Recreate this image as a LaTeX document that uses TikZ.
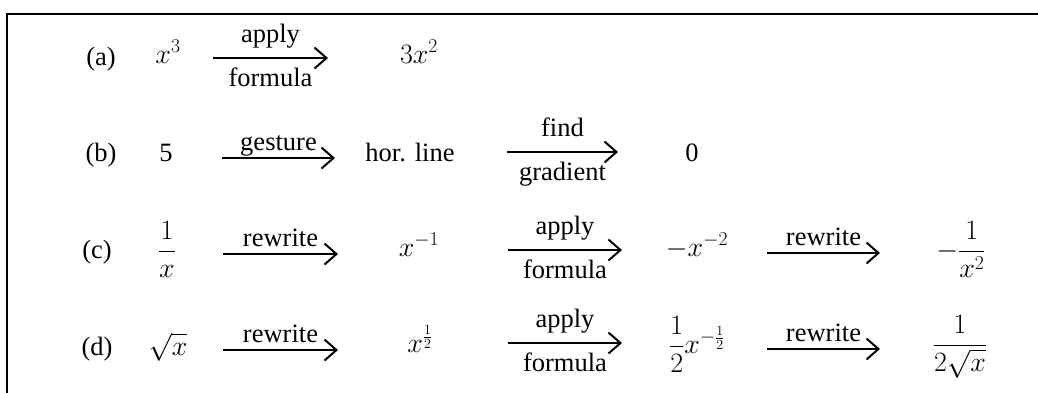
\RequirePackage{fix-cm}
\documentclass[tikz,border=0pt]{standalone}
\usepackage{amsmath}
\usepackage{fontspec}
\setmainfont{Liberation Serif}
\usetikzlibrary{arrows.meta}
\begin{document}
\begin{tikzpicture}[x=1pt,y=-1pt,
  every node/.style={inner sep=0pt,outer sep=0pt,font=\fontsize{26.5}{32}\selectfont},
  term/.style={anchor=base},
  mterm/.style={anchor=base,font=\fontsize{28}{34}\selectfont},
  arr/.style={line width=2pt,-{Straight Barb[length=12pt,width=21pt,line width=2pt]}},
  above lab/.style={pos=0.5,anchor=base,yshift=16pt},
  below lab/.style={pos=0.5,anchor=base,yshift=-28pt},
  close lab/.style={pos=0.5,anchor=base,yshift=8pt},
  frame/.style={line width=2pt}]
\useasboundingbox (0,0) rectangle (1038,392);
% frame
\coordinate (fbl) at (7,393);
\coordinate (ftl) at (7,14);
\coordinate (ftr) at (1039,14);
\draw[frame] (fbl) -- (ftl) -- (ftr);

% row (a)
\node[term] (la) at (101,65) {(a)};
\node[mterm] (xa) at (168,63) {$x^3$};
\node[mterm] (ra) at (419,63) {$3x^2$};
\coordinate (a1s) at (213,58);
\coordinate (a1e) at (328,58);
\draw[arr] (a1s) -- (a1e) node[above lab] {apply} node[below lab] {formula};

% row (b)
\node[term] (lb) at (101,161) {(b)};
\node[term] (fb) at (166,161) {5};
\node[term] (hb) at (410,161) {hor. line};
\node[term] (zb) at (692,161) {0};
\coordinate (b1s) at (222,158);
\coordinate (b1e) at (335,158);
\coordinate (b2s) at (507,152);
\coordinate (b2e) at (618,152);
\draw[arr] (b1s) -- (b1e) node[close lab] {gesture};
\draw[arr] (b2s) -- (b2e) node[above lab] {find} node[below lab] {gradient};

% row (c)
\node[term] (lc) at (97,258) {(c)};
\node[mterm] (c0) at (167,258) {$\dfrac{1}{x}$};
\node[mterm] (c1) at (419,256) {$x^{-1}$};
\node[mterm] (c2) at (697,256) {$-x^{-2}$};
\node[mterm] (c3) at (961,258) {$-\dfrac{1}{x^2}$};
\coordinate (c1s) at (223,254);
\coordinate (c1e) at (338,254);
\coordinate (c2s) at (508,250);
\coordinate (c2e) at (622,250);
\coordinate (c3s) at (767,253);
\coordinate (c3e) at (880,253);
\draw[arr] (c1s) -- (c1e) node[close lab] {rewrite};
\draw[arr] (c2s) -- (c2e) node[above lab] {apply} node[below lab] {formula};
\draw[arr] (c3s) -- (c3e) node[close lab] {rewrite};

% row (d)
\node[term] (ld) at (97,355) {(d)};
\node[mterm] (d0) at (168,355) {$\sqrt{x}$};
\node[mterm] (d1) at (420,352) {$x^{\frac{1}{2}}$};
\node[mterm] (d2) at (697,353) {$\dfrac{1}{2}x^{-\frac{1}{2}}$};
\node[mterm] (d3) at (960,352) {$\dfrac{1}{2\sqrt{x}}$};
\coordinate (d1s) at (223,350);
\coordinate (d1e) at (338,350);
\coordinate (d2s) at (508,343);
\coordinate (d2e) at (622,343);
\coordinate (d3s) at (767,349);
\coordinate (d3e) at (880,349);
\draw[arr] (d1s) -- (d1e) node[close lab] {rewrite};
\draw[arr] (d2s) -- (d2e) node[above lab] {apply} node[below lab] {formula};
\draw[arr] (d3s) -- (d3e) node[close lab] {rewrite};
\end{tikzpicture}
\end{document}
